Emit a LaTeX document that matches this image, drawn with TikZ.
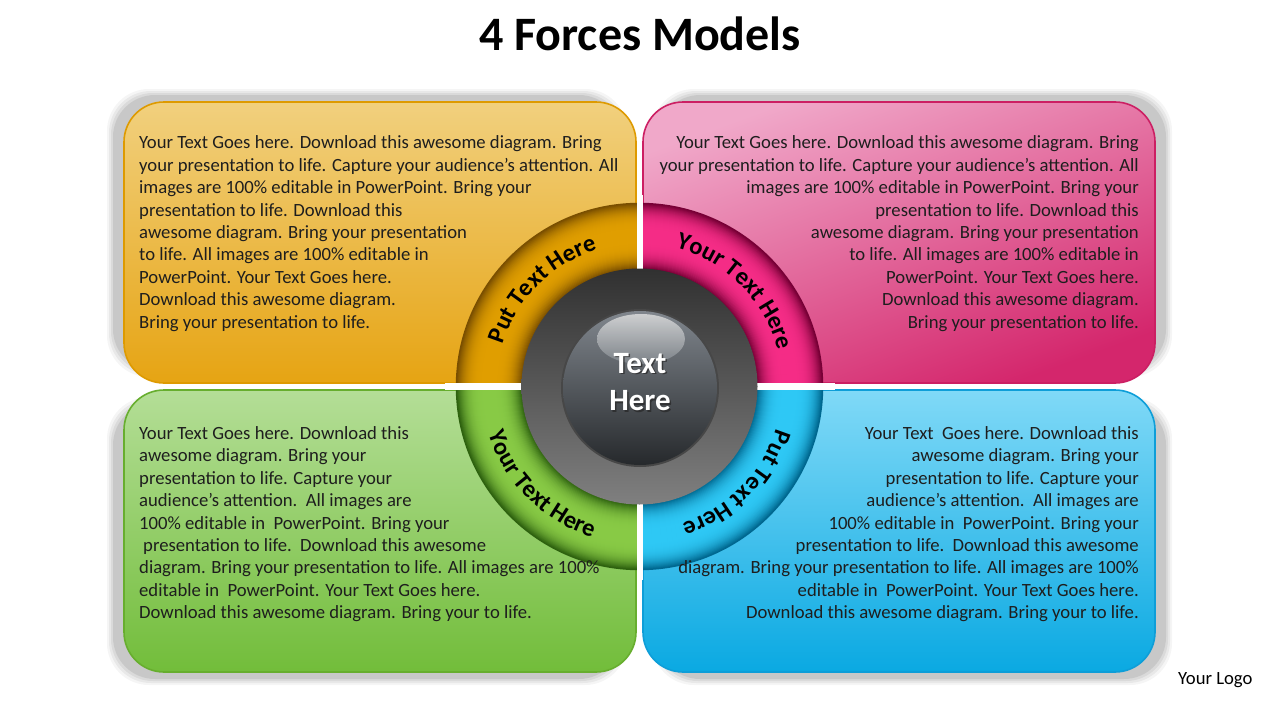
\documentclass[tikz,border=0pt]{standalone}
\usepackage{fontspec}
\setmainfont{Carlito}
\usetikzlibrary{decorations.text,calc}

\definecolor{txt}{HTML}{1E1E1E}
\definecolor{orTop}{HTML}{F1D07E}
\definecolor{orBot}{HTML}{E6A413}
\definecolor{orLine}{HTML}{DE9A00}
\definecolor{orRingB}{HTML}{E09E00}
\definecolor{orRingD}{HTML}{7A4F00}
\definecolor{pkTop}{HTML}{F0A8C9}
\definecolor{pkBot}{HTML}{D4266C}
\definecolor{pkLine}{HTML}{CC1F63}
\definecolor{pkRingB}{HTML}{F52C86}
\definecolor{pkRingD}{HTML}{780036}
\definecolor{grTop}{HTML}{B4DE97}
\definecolor{grBot}{HTML}{72BD3A}
\definecolor{grLine}{HTML}{67AE2E}
\definecolor{grRingB}{HTML}{88CA45}
\definecolor{grRingD}{HTML}{2E620F}
\definecolor{blTop}{HTML}{80D9F7}
\definecolor{blBot}{HTML}{0AA9E2}
\definecolor{blLine}{HTML}{0E9ED8}
\definecolor{blRingB}{HTML}{2EC8F5}
\definecolor{blRingD}{HTML}{006890}
\definecolor{sphTop}{HTML}{80868D}
\definecolor{sphBot}{HTML}{26292C}
\definecolor{hlTop}{HTML}{D6D7D8}
\definecolor{hlBot}{HTML}{7F858B}

\newcommand\bodyfont{\fontsize{18.67}{22.45}\selectfont}
\newcommand\ringfont{\fontsize{24.5}{24.5}\selectfont\bfseries}
\newcommand\titlefont{\fontsize{48}{56}\selectfont\bfseries}
\newcommand\centerfont{\fontsize{31}{37.5}\selectfont\bfseries}
\newcommand\logofont{\fontsize{18.67}{22}\selectfont}
\newcommand\fl{\rule{0pt}{15pt}}

\tikzset{
  bodytext/.style={font=\bodyfont, text=txt, inner sep=0pt},
  ringtext/.style={decorate, decoration={text along path, text align=center, text={|\ringfont|#1}}},
  panel/.style={rounded corners=40pt, line width=1.6pt},
}

\newcommand\softshadow[4]{%
  \foreach \g/\o in {7/0.04,5/0.05,3/0.06,1/0.08}{
    \fill[black, opacity=\o, rounded corners=42pt] (#1-\g,#2+\g) rectangle (#3+\g,#4-\g);
  }%
}

\newcommand\ringquad[4]{% start angle, end angle, bright, dark
  \foreach \r in {118,119,...,183}{
    \pgfmathsetmacro\p{100*(1-(1-sin(180*(\r-118)/65))^2)}
    \draw[line width=1.5pt, #3!\p!#4] ($(C)+(#1:\r)$) arc[start angle=#1, end angle=#2, radius=\r];
  }%
}

\begin{document}
\begin{tikzpicture}[x=1pt, y=1pt]
\useasboundingbox (0,0) rectangle (1280,-720);
\fill[white] (0,0) rectangle (1280,-720);

% shadows (outward only)
\softshadow{114}{-96}{620}{-370}
\softshadow{659}{-96}{1165}{-370}
\softshadow{114}{-404}{620}{-678}
\softshadow{659}{-404}{1165}{-678}

% panels
\shade[panel, draw=orLine, top color=orTop, bottom color=orBot] (124,-102) rectangle (636,-383);
\shade[panel, draw=pkLine, top color=pkTop, bottom color=pkBot, shading angle=20] (643,-102) rectangle (1155,-383);
\shade[panel, draw=grLine, top color=grTop, bottom color=grBot] (124,-390) rectangle (636,-672);
\shade[panel, draw=blLine, top color=blTop, bottom color=blBot] (643,-390) rectangle (1155,-672);

% ring quadrants
\coordinate (C) at (639.5,-386.5);
\ringquad{90}{180}{orRingB}{orRingD}
\ringquad{0}{90}{pkRingB}{pkRingD}
\ringquad{180}{270}{grRingB}{grRingD}
\ringquad{270}{360}{blRingB}{blRingD}

% white gaps
\fill[white] (636.8,-195) rectangle (642.6,-580);
\fill[white] (445,-383.4) rectangle (835,-389.6);

% centre hub
\shade[top color=black!81, bottom color=black!50] (C) circle[radius=118];
\coordinate (S) at (640,-388);
\fill[black!72] (S) circle[radius=79];
\shade[top color=sphTop, bottom color=sphBot] (S) circle[radius=77];
\shade[top color=hlTop, bottom color=hlBot, opacity=0.9] (641,-339) ellipse[x radius=44, y radius=25];

% ring texts
\path[ringtext={Put Text Here}] ($(C)+(180:143)$) arc[start angle=180, end angle=90, radius=143];
\path[ringtext={Your Text Here}] ($(C)+(90:143)$) arc[start angle=90, end angle=0, radius=143];
\path[ringtext={Put Text Here}] ($(C)+(0:143)$) arc[start angle=0, end angle=-90, radius=143];
\path[ringtext={Your Text Here}] ($(C)+(180:158)$) arc[start angle=180, end angle=270, radius=158];

% centre text
\node[font=\centerfont, text=black!85, align=center, opacity=0.7] (cshadow) at (641.5,-383.5) {Text\\Here};
\node[font=\centerfont, text=white, align=center] (ctext) at (640,-382) {Text\\Here};

% title and logo
\node[font=\titlefont, anchor=base, inner sep=0pt] (title) at (640,-50.5) {4 Forces Models};
\node[font=\logofont, anchor=base west, inner sep=0pt] (logo) at (1178,-684) {Your Logo};

% body texts
\node[bodytext, anchor=north west, align=left] (ortext) at (139,-133.5) {\fl Your Text Goes here. Download this awesome diagram. Bring\\
your presentation to life. Capture your audience’s attention. All\\
images are 100\% editable in PowerPoint. Bring your\\
presentation to life. Download this\\
awesome diagram. Bring your presentation\\
to life. All images are 100\% editable in\\
PowerPoint. Your Text Goes here.\\
Download this awesome diagram.\\
Bring your presentation to life.};

\node[bodytext, anchor=north east, align=right] (pktext) at (1139,-133.5) {\fl Your Text Goes here. Download this awesome diagram. Bring\\
your presentation to life. Capture your audience’s attention. All\\
images are 100\% editable in PowerPoint. Bring your\\
presentation to life. Download this\\
awesome diagram. Bring your presentation\\
to life. All images are 100\% editable in\\
PowerPoint. Your Text Goes here.\\
Download this awesome diagram.\\
Bring your presentation to life.};

\node[bodytext, anchor=north west, align=left] (grtext) at (139,-424) {\fl Your Text Goes here. Download this\\
awesome diagram. Bring your\\
presentation to life. Capture your\\
audience’s attention.\ \ All images are\\
100\% editable in\ \ PowerPoint. Bring your\\
\hspace*{4pt}presentation to life.\ \ Download this awesome\\
diagram. Bring your presentation to life. All images are 100\%\\
editable in\ \ PowerPoint. Your Text Goes here.\\
Download this awesome diagram. Bring your to life.};

\node[bodytext, anchor=north east, align=right] (bltext) at (1139,-424) {\fl Your Text\ \ Goes here. Download this\\
awesome diagram. Bring your\\
presentation to life. Capture your\\
audience’s attention.\ \ All images are\\
100\% editable in\ \ PowerPoint. Bring your\\
presentation to life.\ \ Download this awesome\\
diagram. Bring your presentation to life. All images are 100\%\\
editable in\ \ PowerPoint. Your Text Goes here.\\
Download this awesome diagram. Bring your to life.};
\end{tikzpicture}
\end{document}
